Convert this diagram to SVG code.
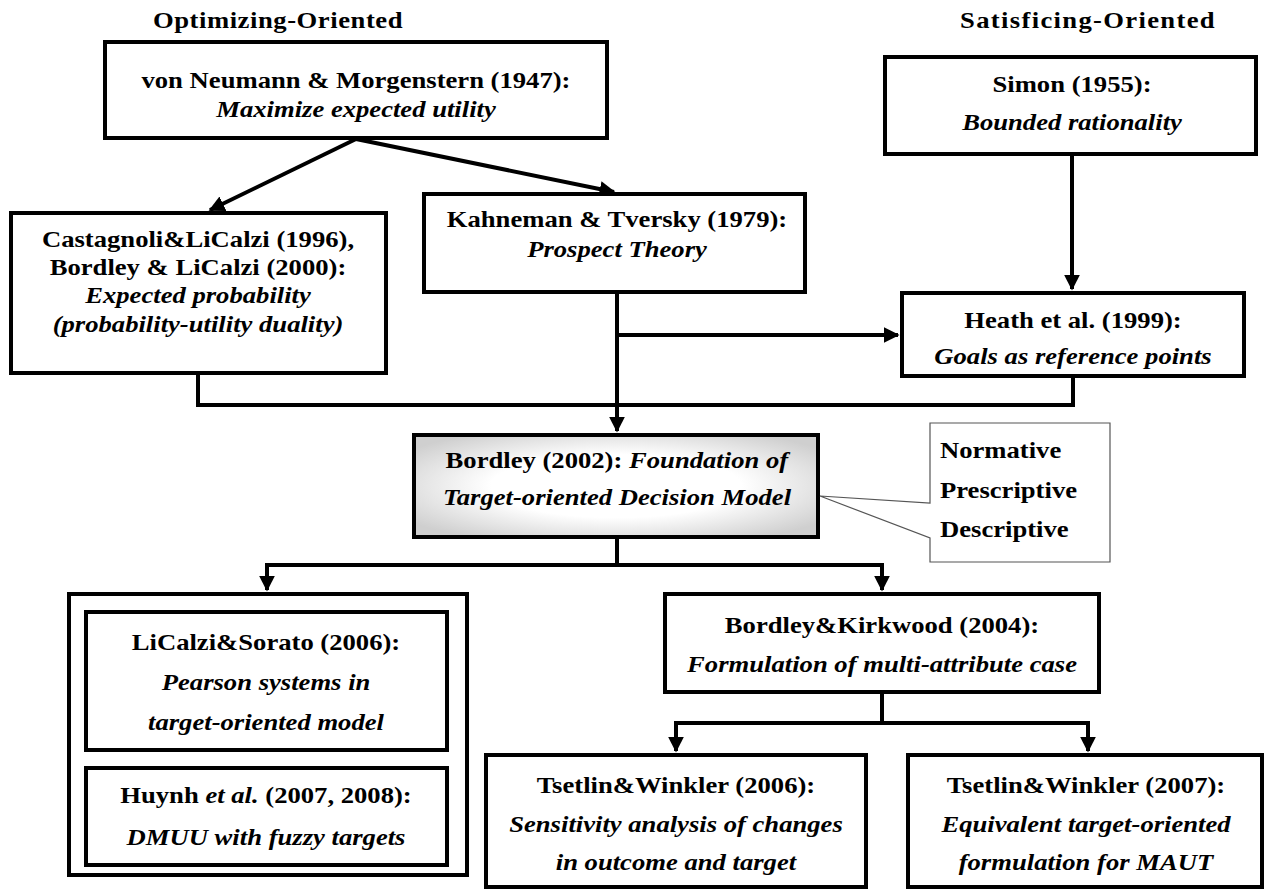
<svg xmlns="http://www.w3.org/2000/svg" width="1267" height="890" viewBox="0 0 1267 890">
<defs>
<style>
.box{fill:#fff;stroke:#000;stroke-width:4}
.t{font-family:"Liberation Serif","Times New Roman",serif;font-weight:bold;font-size:24px;fill:#000;text-anchor:middle;transform-box:fill-box;transform-origin:center;transform:scaleX(1.11)}
.l{text-anchor:start;transform-origin:left center}
.i{font-style:italic}
.c{fill:none;stroke:#000;stroke-width:4}
</style>
<marker id="ah" viewBox="0 0 10 10" refX="9" refY="5" markerWidth="4" markerHeight="4" orient="auto" markerUnits="strokeWidth">
<path d="M0,0 L10,5 L0,10 z" fill="#000"/>
</marker>
<radialGradient id="gb" cx="50%" cy="50%" r="62%">
<stop offset="0.5" stop-color="#fff"/>
<stop offset="1" stop-color="#cfcfcf"/>
</radialGradient>
</defs>
<rect width="1267" height="890" fill="#fff"/>
<g id="headers">
<text class="t" x="278" y="28" letter-spacing="0.5">Optimizing-Oriented</text>
<text class="t" x="1088" y="28" letter-spacing="1.2">Satisficing-Oriented</text>
</g>
<g id="connectors">
<path class="c" d="M356,139 L210,210" marker-end="url(#ah)"/>
<path class="c" d="M356,139 L614,192" marker-end="url(#ah)"/>
<path class="c" d="M1072,154 L1072,289" marker-end="url(#ah)"/>
<path class="c" d="M617,292 L617,431" marker-end="url(#ah)"/>
<path class="c" d="M617,335 L898,335" marker-end="url(#ah)"/>
<path class="c" d="M198,373 L198,405 L1073,405 L1073,376"/>
<path class="c" d="M617,537 L617,565"/>
<path class="c" d="M265,565 L884,565"/>
<path class="c" d="M267,563 L267,590" marker-end="url(#ah)"/>
<path class="c" d="M882,563 L882,590" marker-end="url(#ah)"/>
<path class="c" d="M882,692 L882,723"/>
<path class="c" d="M674,723 L1090,723"/>
<path class="c" d="M676,721 L676,751" marker-end="url(#ah)"/>
<path class="c" d="M1088,721 L1088,751" marker-end="url(#ah)"/>
</g>
<g id="vonneumann">
<rect class="box" x="105" y="42" width="502" height="96"/>
<text class="t" x="356" y="88">von Neumann &amp; Morgenstern (1947):</text>
<text class="t i" x="356" y="117">Maximize expected utility</text>
</g>
<g id="simon">
<rect class="box" x="885" y="57" width="371" height="97"/>
<text class="t" x="1072" y="92">Simon (1955):</text>
<text class="t i" x="1072" y="130">Bounded rationality</text>
</g>
<g id="castagnoli">
<rect class="box" x="11" y="213" width="375" height="160"/>
<text class="t" x="198" y="247">Castagnoli&amp;LiCalzi (1996),</text>
<text class="t" x="198" y="275">Bordley &amp; LiCalzi (2000):</text>
<text class="t i" x="198" y="303">Expected probability</text>
<text class="t i" x="198" y="332">(probability-utility duality)</text>
</g>
<g id="kahneman">
<rect class="box" x="424" y="194" width="381" height="98"/>
<text class="t" x="617" y="227">Kahneman &amp; Tversky (1979):</text>
<text class="t i" x="617" y="257">Prospect Theory</text>
</g>
<g id="heath">
<rect class="box" x="902" y="293" width="342" height="83"/>
<text class="t" x="1073" y="328">Heath et al. (1999):</text>
<text class="t i" x="1073" y="364">Goals as reference points</text>
</g>
<g id="bordley">
<rect x="414" y="435" width="404" height="102" fill="url(#gb)" stroke="#000" stroke-width="4"/>
<text class="t" x="617" y="468">Bordley (2002): <tspan class="i">Foundation of</tspan></text>
<text class="t i" x="617" y="505">Target-oriented Decision Model</text>
</g>
<g id="types">
<path d="M930,423 H1110 V562 H930 V538 L820,496 L930,503 Z" fill="#fff" stroke="#555" stroke-width="1.2"/>
<text class="t l" x="940" y="458">Normative</text>
<text class="t l" x="940" y="498">Prescriptive</text>
<text class="t l" x="940" y="537">Descriptive</text>
</g>
<g id="group-left">
<rect class="box" x="69" y="594" width="398" height="281"/>
</g>
<g id="licalzi">
<rect class="box" x="86" y="612" width="361" height="138"/>
<text class="t" x="266" y="650">LiCalzi&amp;Sorato (2006):</text>
<text class="t i" x="266" y="690">Pearson systems in</text>
<text class="t i" x="266" y="730">target-oriented model</text>
</g>
<g id="huynh">
<rect class="box" x="86" y="768" width="361" height="97"/>
<text class="t" x="266" y="803">Huynh <tspan class="i">et al.</tspan> (2007, 2008):</text>
<text class="t i" x="266" y="845">DMUU with fuzzy targets</text>
</g>
<g id="bordleykirkwood">
<rect class="box" x="665" y="594" width="434" height="98"/>
<text class="t" x="882" y="633">Bordley&amp;Kirkwood (2004):</text>
<text class="t i" x="882" y="672">Formulation of multi-attribute case</text>
</g>
<g id="tsetlin2006">
<rect class="box" x="486" y="755" width="380" height="132"/>
<text class="t" x="676" y="793">Tsetlin&amp;Winkler (2006):</text>
<text class="t i" x="676" y="832">Sensitivity analysis of changes</text>
<text class="t i" x="676" y="870">in outcome and target</text>
</g>
<g id="tsetlin2007">
<rect class="box" x="908" y="755" width="354" height="132"/>
<text class="t" x="1086" y="793">Tsetlin&amp;Winkler (2007):</text>
<text class="t i" x="1086" y="832">Equivalent target-oriented</text>
<text class="t i" x="1086" y="870">formulation for MAUT</text>
</g>
</svg>
